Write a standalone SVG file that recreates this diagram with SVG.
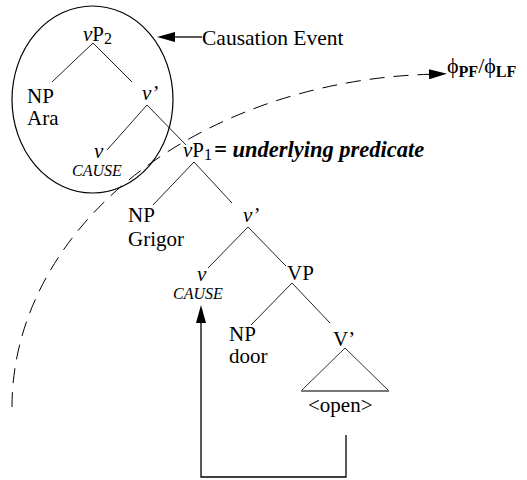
<svg xmlns="http://www.w3.org/2000/svg" width="527" height="480" viewBox="0 0 527 480">
<defs>
<style>
text{font-family:"Liberation Serif","Times New Roman",serif;fill:#000}
.lbl{font-size:21px}
.it{font-style:italic}
.sub{font-size:16px}
.cause{font-size:16px;font-style:italic}
.pred{font-size:22.5px;font-weight:bold;font-style:italic}
.phi{font-size:22px}
.phisub{font-size:16px;font-weight:bold}
.edge{stroke:#222;stroke-width:1;fill:none}
.conn{stroke:#000;stroke-width:1.3;fill:none}
.dash{stroke:#000;stroke-width:1;fill:none;stroke-dasharray:15 9}
</style>
<marker id="arr" markerUnits="userSpaceOnUse" markerWidth="18" markerHeight="10" refX="0" refY="5" orient="auto">
<path d="M0,0 L18,5 L0,10 z" fill="#000" stroke="none"/>
</marker>
</defs>
<rect width="527" height="480" fill="#fff"/>

<g id="connectors">
<line class="edge" x1="93" y1="43" x2="52" y2="82"/>
<line class="edge" x1="93" y1="43" x2="132" y2="82"/>
<line class="edge" x1="147" y1="105" x2="107" y2="150"/>
<line class="edge" x1="147" y1="105" x2="186" y2="145"/>
<line class="edge" x1="194" y1="162" x2="153" y2="205"/>
<line class="edge" x1="194" y1="162" x2="232" y2="203"/>
<line class="edge" x1="248" y1="227" x2="208" y2="268"/>
<line class="edge" x1="248" y1="227" x2="286" y2="266"/>
<line class="edge" x1="292" y1="283" x2="251" y2="325"/>
<line class="edge" x1="292" y1="283" x2="330" y2="323"/>
<path class="dash" d="M12 407 A435 333 0 0 1 429 74.3" marker-end="url(#arr)"/>
<path class="conn" d="M346 435 V477 H201 V323" marker-end="url(#arr)"/>
<line class="conn" x1="202" y1="37" x2="175" y2="37" marker-end="url(#arr)"/>
</g>

<g id="causation-circle">
<ellipse cx="92.5" cy="99.5" rx="80.5" ry="93.5" fill="none" stroke="#000" stroke-width="1.2"/>
</g>

<g id="vP2">
<text class="lbl" x="83" y="41"><tspan class="it">v</tspan>P<tspan class="sub" dy="3">2</tspan></text>
</g>
<g id="NP-Ara">
<text class="lbl" x="27" y="103">NP</text>
<text class="lbl" x="27" y="125">Ara</text>
</g>
<g id="vbar2">
<text class="lbl it" x="142" y="100">v’</text>
</g>
<g id="v-cause2">
<text class="lbl it" x="94" y="158">v</text>
<text class="cause" x="72" y="176">CAUSE</text>
</g>
<g id="vP1">
<text class="lbl" x="183" y="157"><tspan class="it">v</tspan>P<tspan class="sub" dy="3">1</tspan></text>
<text class="pred" x="214" y="157">= underlying predicate</text>
</g>
<g id="NP-Grigor">
<text class="lbl" x="128" y="222">NP</text>
<text class="lbl" x="128" y="246">Grigor</text>
</g>
<g id="vbar1">
<text class="lbl it" x="243" y="222">v’</text>
</g>
<g id="v-cause1">
<text class="lbl it" x="197" y="281">v</text>
<text class="cause" x="173" y="299">CAUSE</text>
</g>
<g id="VP">
<text class="lbl" x="287" y="280">VP</text>
</g>
<g id="NP-door">
<text class="lbl" x="229" y="341">NP</text>
<text class="lbl" x="229" y="363">door</text>
</g>
<g id="Vbar">
<text class="lbl" x="333" y="346">V’</text>
<path d="M345 348 L301 391 L389 391 Z" fill="none" stroke="#333" stroke-width="1"/>
<line x1="301" y1="391" x2="389" y2="391" stroke="#777" stroke-width="2"/>
<text class="lbl" x="308" y="412">&lt;open&gt;</text>
</g>
<g id="causation-event">
<text class="lbl" x="202" y="45" style="font-size:21.5px">Causation Event</text>
</g>
<g id="phi">
<text class="phi" x="447" y="73">ϕ<tspan class="phisub" dy="4">PF</tspan><tspan dy="-4">/ϕ</tspan><tspan class="phisub" dy="4">LF</tspan></text>
</g>
</svg>
